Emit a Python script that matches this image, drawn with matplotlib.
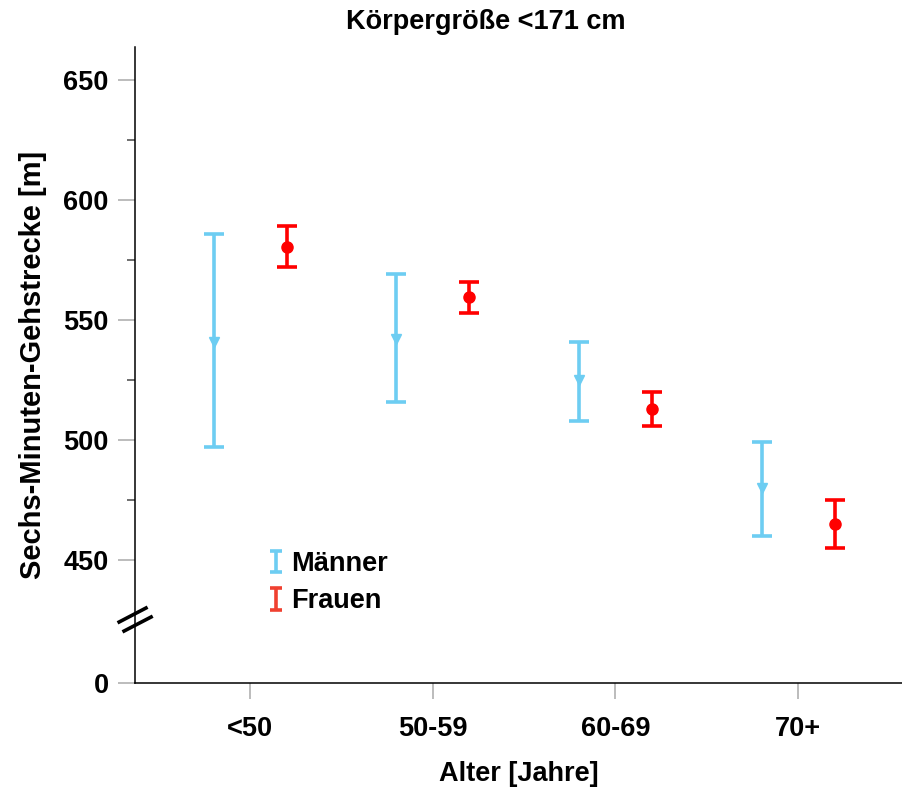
import numpy as np
import matplotlib.pyplot as plt
from matplotlib.container import ErrorbarContainer
from matplotlib.legend_handler import HandlerErrorbar

plt.rcParams['font.family'] = ['Liberation Sans', 'DejaVu Sans']
plt.rcParams['font.weight'] = 'bold'

# data
groups = ["<50", "50-59", "60-69", "70+"]
maenner_mid = [541, 542, 525, 480]
maenner_low = [497, 516, 508, 460]
maenner_high = [586, 569, 541, 499]
frauen_mid = [580.5, 559.5, 513, 465]
frauen_low = [572, 553, 506, 455]
frauen_high = [589, 566, 520, 475]
y_ticks = [650, 600, 550, 500, 450]

# the "0" sits below the axis break
zero_pos = 398.75

x = np.arange(len(groups))
fig = plt.figure(figsize=(9.02, 7.98), dpi=100)
ax = fig.add_axes([0.1497, 0.1441, 0.8503, 0.797])

blue = '#6dcdf2'
red = '#ff0000'
m_err = [np.array(maenner_mid) - np.array(maenner_low), np.array(maenner_high) - np.array(maenner_mid)]
f_err = [np.array(frauen_mid) - np.array(frauen_low), np.array(frauen_high) - np.array(frauen_mid)]
ax.errorbar(x - 0.2, maenner_mid, yerr=m_err, fmt='v', color=blue, ms=7,
            elinewidth=2.6, capsize=7, capthick=2.6, clip_on=False)
ax.errorbar(x + 0.2, frauen_mid, yerr=f_err, fmt='o', color=red, ms=8,
            elinewidth=2.6, capsize=7, capthick=2.6, clip_on=False)

# legend proxies
pm = ax.errorbar([np.nan], [np.nan], yerr=[1], fmt='none', ecolor=blue,
                 elinewidth=2.6, capsize=4.5, capthick=2.6, label='Männer')
pf = ax.errorbar([np.nan], [np.nan], yerr=[1], fmt='none', ecolor='#f04030',
                 elinewidth=2.6, capsize=4.5, capthick=2.6, label='Frauen')
ax.legend(handles=[pm, pf], loc='center left', bbox_to_anchor=(0.173, 0.158),
          frameon=False, fontsize=19.5, handlelength=0.6, handletextpad=0.28,
          labelspacing=0.42, borderaxespad=0, borderpad=0,
          handler_map={ErrorbarContainer: HandlerErrorbar(xerr_size=0.3, yerr_size=0.4)})

ax.set_xlim(-0.63, 3.569)
ax.set_ylim(zero_pos, 663.75)
ax.set_xticks(x)
ax.set_xticklabels(groups, fontsize=19.5)
ax.set_yticks(y_ticks + [zero_pos])
ax.set_yticklabels([str(v) for v in y_ticks] + ['0'], fontsize=19.5)
ax.set_yticks([625, 575, 525, 475], minor=True)
ax.tick_params(axis='y', which='major', length=12, width=1.2, color='#b0b0b0', pad=7)
ax.tick_params(axis='y', which='minor', length=6, width=1.2, color='#555555')
ax.tick_params(axis='x', which='major', length=11.5, width=1.2, color='#b0b0b0', pad=12)

for s in ['top', 'right']:
    ax.spines[s].set_visible(False)
for s in ['left', 'bottom']:
    ax.spines[s].set_linewidth(1.1)

# axis break marks
ax.plot([-0.717, -0.57], [424.17, 430.0], color='black', lw=2.6, clip_on=False)
ax.plot([-0.69, -0.542], [420.4, 426.25], color='black', lw=2.6, clip_on=False)

ax.set_xlabel('Alter [Jahre]', fontsize=19.5, fontweight='bold', labelpad=14)
ax.set_ylabel('Sechs-Minuten-Gehstrecke [m]', fontsize=21, fontweight='bold', labelpad=12)
fig.text(486 / 902, 1 - 22 / 798, 'Körpergröße <171 cm', ha='center', va='center',
         fontsize=19.5, fontweight='bold')

fig.savefig('out.png', dpi=100)
